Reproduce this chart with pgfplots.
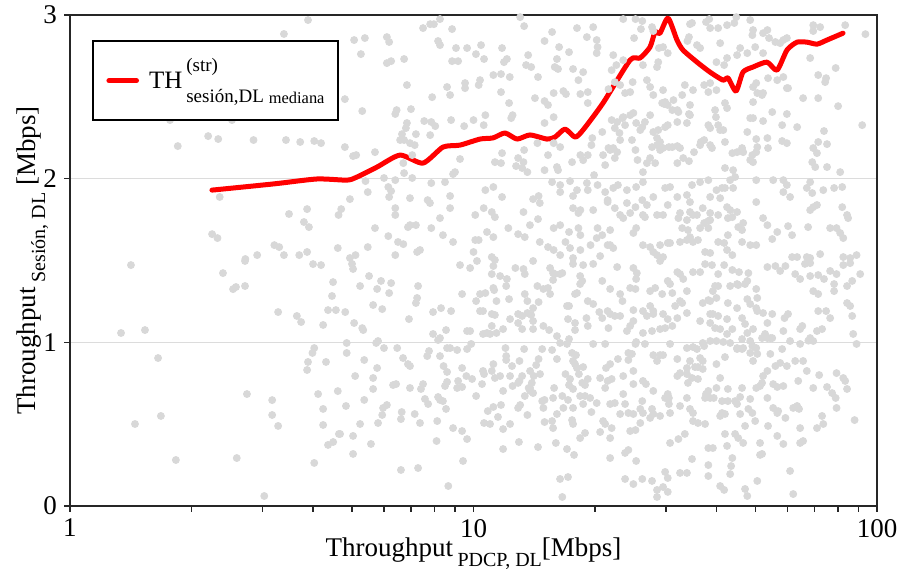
\documentclass[border=0pt]{standalone}
\usepackage{pgfplots}
\pgfplotsset{compat=1.18}
\usepackage{fontspec}
\setmainfont{Liberation Serif}
\definecolor{scat}{RGB}{216,216,216}
\definecolor{gridc}{RGB}{220,220,220}
\begin{document}
\begin{tikzpicture}
\useasboundingbox (-35pt,-33pt) rectangle (415.5pt,253pt);
\begin{axis}[
  at={(0pt,0pt)}, anchor=south west,
  scale only axis, width=403.5pt, height=245.5pt,
  xmode=log, xmin=1, xmax=100, ymin=0, ymax=3,
  xtick={1,10,100}, xticklabels={1,10,100},
  ytick={0,1,2,3},
  minor xtick={},
  xtick pos=bottom, ytick pos=left,
  tick align=outside, major tick length=3pt,
  ymajorgrids, major grid style={gridc, line width=0.5pt},
  axis line style={line width=0.8pt, black!85},
  tick style={line width=0.8pt, black!85},
  /pgf/number format/assume math mode=true,
  tick label style={font=\fontsize{13.5}{16}\selectfont},
  label style={font=\fontsize{13.5}{16}\selectfont},
  xlabel={Throughput\,\raisebox{-5pt}{\fontsize{10}{12}\selectfont PDCP, DL}[Mbps]},
  xlabel style={at={(axis description cs:0.5,0)}, anchor=base, yshift=-25.5pt},
  ylabel={Throughput\,\raisebox{-5pt}{\fontsize{10}{12}\selectfont Sesión, DL} [Mbps]},
  ylabel style={at={(axis description cs:-0.04337,0.5)}, anchor=base},
  legend style={at={(0.0273,0.949)}, anchor=north west, draw=black, line width=1pt, fill=white,
    inner xsep=6.7pt, inner ysep=0pt, nodes={inner sep=0pt, text depth={}}, font=\fontsize{12.5}{13}\selectfont},
  legend cell align=left,
  legend image code/.code={\draw[#1] (1.2pt,0pt) -- (15pt,0pt);},
]
\addplot[scat, only marks, mark=*, mark size=1.75pt, mark options={solid, fill=scat, draw=none}, forget plot] table[row sep=\\] {
x y\\
1.416 1.472\\ 2.394 1.423\\ 2.715 1.497\\ 2.536 1.325\\ 2.578 1.338\\ 2.715 1.344\\ 4.003 1.478\\ 4.19 1.472\\ 4.487 1.368\\ 4.46 1.283\\
4.36 1.197\\ 4.56 1.197\\ 3.28 1.185\\ 3.65 1.161\\ 3.74 1.124\\ 4.24 1.106\\ 1.338 1.057\\ 1.534 1.075\\ 1.653 0.904\\ 4.03 0.965\\
3.99 0.935\\ 3.89 0.880\\ 3.87 0.831\\ 4.31 0.880\\ 2.745 0.684\\ 3.17 0.647\\ 3.17 0.556\\ 3.28 0.489\\ 4.12 0.684\\ 4.61 0.702\\
4.24 0.593\\ 4.24 0.495\\ 4.64 0.440\\ 4.36 0.373\\ 4.49 0.391\\ 1.449 0.501\\ 1.68 0.550\\ 1.83 0.281\\ 2.59 0.293\\ 4.03 0.263\\ 3.03 0.061\\
3.89 2.969\\ 3.39 2.884\\ 1.77 2.358\\ 2.52 2.358\\ 2.20 2.260\\ 2.33 2.242\\ 1.85 2.199\\ 2.85 2.236\\ 3.43 2.236\\ 3.72 2.224\\
4.03 2.230\\ 4.19 2.217\\ 2.35 1.888\\ 3.49 1.784\\ 3.87 1.814\\ 3.80 1.735\\ 3.91 1.704\\ 2.25 1.661\\ 2.32 1.637\\ 3.21 1.594\\
3.30 1.582\\ 2.91 1.533\\ 2.72 1.509\\ 3.39 1.533\\ 3.70 1.533\\ 3.87 1.552\\ 4.61 1.576\\
8.26 2.975\\ 7.81 2.944\\ 7.50 2.920\\ 7.98 2.944\\ 8.85 2.914\\ 13.05 2.987\\ 13.35 2.932\\ 15.66 2.896\\ 18.05 2.920\\ 19.80 2.926\\
5.06 2.847\\ 5.38 2.859\\ 6.10 2.865\\ 6.18 2.835\\ 5.26 2.761\\ 8.17 2.841\\ 8.26 2.816\\ 9.05 2.798\\ 9.64 2.798\\ 10.44 2.816\\
10.14 2.761\\ 10.62 2.731\\ 11.77 2.798\\ 12.1 2.731\\ 11.9 2.712\\ 13.66 2.755\\ 13.5 2.694\\ 13.9 2.682\\ 15.0 2.841\\ 16.3 2.804\\
17.25 2.773\\ 16.1 2.731\\ 15.9 2.682\\ 17.65 2.670\\ 18.7 2.651\\ 19.1 2.865\\ 20.2 2.847\\ 20.3 2.804\\ 20.2 2.767\\ 6.73 2.731\\
6.25 2.718\\ 6.10 2.706\\ 8.85 2.718\\ 9.16 2.718\\ 11.2 2.633\\ 11.7 2.639\\ 12.3 2.621\\ 14.45 2.621\\ 16.2 2.670\\ 18.2 2.602\\
6.84 2.572\\ 8.6 2.560\\ 9.53 2.584\\ 9.53 2.553\\ 10.38 2.602\\ 10.3 2.572\\ 11.7 2.529\\ 12.25 2.462\\ 14.2 2.492\\ 15.0 2.474\\
15.3 2.450\\ 15.8 2.523\\ 16.7 2.535\\ 16.95 2.517\\ 19.2 2.529\\ 18.4 2.517\\ 19.2 2.462\\ 21.6 2.547\\ 7.9 2.498\\ 8.75 2.511\\
6.45 2.419\\ 6.4 2.395\\ 7.0 2.425\\ 5.3 2.413\\ 4.8 2.486\\ 15.8 2.376\\ 15.0 2.340\\ 12.5 2.388\\ 12.4 2.370\\ 10.7 2.388\\
10.6 2.327\\ 10.0 2.358\\ 9.48 2.321\\ 8.8 2.358\\ 7.55 2.352\\ 7.86 2.346\\ 8.04 2.321\\ 6.84 2.340\\ 6.8 2.309\\ 6.65 2.272\\
6.73 2.236\\ 6.58 2.236\\ 7.2 2.272\\ 7.81 2.266\\ 6.96 2.217\\ 7.15 2.205\\ 5.7 2.162\\ 5.03 2.138\\ 5.12 2.144\\ 4.8 2.193\\
11.77 2.156\\ 11.3 2.101\\ 11.7 2.095\\ 12.9 2.126\\ 13.3 2.101\\ 13.35 2.175\\ 14.4 2.217\\ 15.8 2.217\\ 16.4 2.193\\ 15.3 2.144\\
16.1 2.071\\ 16.2 2.052\\ 13.6 2.040\\ 12.75 2.077\\ 13.2 2.065\\ 15.0 2.052\\ 17.55 2.101\\ 18.4 2.144\\ 18.7 2.113\\ 19.7 2.248\\
19.6 2.205\\ 19.2 2.144\\ 20.95 2.144\\ 21.2 2.083\\ 21.6 2.187\\ 20.85 2.285\\ 9.26 2.120\\ 7.05 2.144\\ 6.7 2.095\\ 6.0 2.004\\
6.4 1.991\\ 7.05 2.004\\ 6.73 2.034\\ 5.4 1.985\\ 5.47 1.918\\ 6.15 1.949\\ 6.25 1.924\\ 6.18 1.888\\ 7.86 1.973\\ 8.5 1.979\\
8.9 2.028\\ 9.0 2.040\\ 8.75 1.894\\ 10.7 1.930\\ 11.2 1.949\\ 11.77 1.888\\ 14.05 1.875\\ 14.5 1.894\\ 14.6 1.851\\ 15.66 1.979\\
16.4 1.961\\ 16.4 1.918\\ 17.35 1.985\\ 17.65 1.894\\ 18.05 1.930\\ 19.1 1.973\\ 19.2 1.930\\ 19.9 2.022\\ 20.3 1.961\\ 21.2 1.918\\
21.5 1.869\\ 6.96 1.881\\ 7.7 1.869\\ 7.8 1.851\\ 4.94 1.875\\ 4.63 1.778\\ 4.7 1.814\\ 6.4 1.820\\ 6.4 1.778\\ 8.75 1.820\\
10.1 1.778\\ 10.6 1.820\\ 11.1 1.796\\ 11.3 1.765\\ 13.3 1.796\\ 14.45 1.753\\ 15.8 1.698\\ 16.4 1.716\\ 17.65 1.820\\ 18.2 1.790\\
18.4 1.808\\ 19.8 1.808\\ 21.5 1.857\\ 5.7 1.698\\ 6.15 1.649\\ 6.5 1.613\\ 6.7 1.600\\ 6.88 1.704\\ 6.96 1.716\\ 7.2 1.716\\
7.86 1.698\\ 8.26 1.759\\ 8.4 1.655\\ 8.9 1.613\\ 10.1 1.625\\ 10.3 1.625\\ 10.8 1.674\\ 11.2 1.643\\ 12.2 1.698\\ 12.9 1.661\\
13.8 1.716\\ 13.4 1.643\\ 14.6 1.613\\ 15.3 1.582\\ 15.8 1.564\\ 16.9 1.613\\ 17.25 1.674\\ 17.35 1.576\\ 18.4 1.655\\ 18.2 1.698\\
19.5 1.594\\ 20.2 1.637\\ 20.85 1.655\\ 20.3 1.698\\ 21.5 1.594\\ 5.1 1.533\\ 4.94 1.515\\ 5.47 1.582\\ 6.4 1.533\\ 7.25 1.552\\
7.37 1.564\\ 10.0 1.552\\ 11.1 1.521\\ 11.3 1.503\\ 16.4 1.533\\ 17.65 1.515\\ 18.4 1.564\\ 20.6 1.527\\
5.00 1.479\\ 5.03 1.448\\ 5.51 1.405\\ 5.90 1.375\\ 6.25 1.362\\ 5.77 1.326\\ 6.18 1.301\\ 5.235 1.344\\ 7.29 1.344\\ 7.25 1.271\\
7.20 1.240\\ 4.81 1.185\\ 5.64 1.228\\ 5.94 1.203\\ 5.06 1.118\\ 5.30 1.087\\ 5.33 1.075\\ 6.92 1.142\\ 7.94 1.185\\ 8.31 1.209\\
8.80 1.191\\ 9.37 1.295\\ 9.26 1.472\\ 9.81 1.454\\ 10.2 1.497\\ 11.2 1.466\\ 11.1 1.417\\ 11.64 1.405\\ 12.1 1.387\\ 12.05 1.344\\
10.38 1.295\\ 10.7 1.301\\ 10.15 1.252\\ 11.2 1.332\\ 11.25 1.319\\ 11.4 1.252\\ 12.25 1.264\\ 12.7 1.454\\ 13.3 1.448\\ 13.4 1.417\\
14.05 1.497\\ 15.48 1.454\\ 15.9 1.417\\ 16.6 1.423\\ 15.75 1.381\\ 14.4 1.344\\ 14.9 1.326\\ 15.3 1.332\\ 15.48 1.295\\ 13.4 1.295\\
13.6 1.252\\ 14.5 1.246\\ 14.05 1.209\\ 12.32 1.142\\ 12.9 1.173\\ 13.2 1.161\\ 13.6 1.179\\ 13.9 1.167\\ 14.05 1.130\\ 14.9 1.100\\
15.4 1.075\\ 14.05 1.081\\ 13.2 1.081\\ 12.9 1.118\\ 11.84 1.081\\ 11.4 1.057\\ 11.1 1.173\\ 11.3 1.167\\ 11.1 1.100\\ 10.99 1.051\\
10.38 1.191\\ 10.56 1.191\\ 10.8 1.057\\ 10.56 1.051\\ 9.64 1.069\\ 9.81 1.069\\ 8.55 1.075\\ 8.26 1.026\\ 8.17 1.014\\ 7.94 1.051\\
8.75 0.965\\ 9.11 0.953\\ 9.64 0.959\\ 9.87 0.990\\ 7.76 0.947\\ 7.68 0.916\\ 8.26 0.916\\ 8.6 0.965\\ 8.43 0.855\\ 8.6 0.819\\
9.37 0.843\\ 9.6 0.794\\ 9.92 0.776\\ 9.16 0.764\\ 9.11 0.721\\ 8.6 0.758\\ 8.5 0.733\\ 9.37 0.727\\ 10.15 0.672\\ 10.5 0.745\\
10.56 0.825\\ 10.62 0.806\\ 11.1 0.825\\ 11.2 0.867\\ 11.3 0.782\\ 11.64 0.794\\ 12.05 0.916\\ 12.05 0.892\\ 12.0 0.965\\ 12.46 0.855\\
13.0 0.886\\ 12.5 0.733\\ 12.9 0.752\\ 13.2 0.794\\ 13.0 0.764\\ 13.35 0.959\\ 12.32 0.794\\ 13.81 0.825\\ 13.95 0.752\\ 13.81 0.721\\
14.1 0.794\\ 14.62 0.806\\ 14.3 0.861\\ 14.5 0.898\\ 14.8 0.959\\ 15.66 0.953\\ 16.1 0.898\\ 16.9 0.806\\ 17.35 0.776\\ 17.55 0.935\\
17.65 0.886\\ 17.85 0.867\\ 18.05 0.843\\ 17.05 0.990\\ 17.25 1.020\\ 17.95 0.922\\ 18.25 0.806\\ 18.6 0.752\\ 19.2 0.776\\ 18.7 0.849\\
19.8 0.990\\ 21.2 0.990\\ 21.3 0.843\\ 20.6 0.782\\ 21.2 0.721\\ 21.5 0.764\\ 18.9 0.739\\ 17.65 0.715\\ 17.25 0.739\\ 19.05 1.148\\
19.2 1.100\\ 17.85 1.118\\ 17.85 1.075\\ 17.15 1.142\\ 16.1 1.038\\ 16.39 0.996\\ 17.05 1.222\\ 17.25 1.222\\ 18.05 1.301\\ 17.85 1.295\\
18.38 1.356\\ 18.6 1.375\\ 18.38 1.405\\ 19.8 1.479\\ 18.7 1.472\\ 20.85 1.375\\ 19.2 1.252\\ 19.8 1.234\\ 20.5 1.185\\ 20.85 1.148\\
21.5 1.191\\ 21.6 1.087\\ 16.39 1.417\\ 15.75 1.423\\ 17.65 1.479\\
4.83 0.611\\ 5.36 0.648\\ 5.64 0.715\\ 5.64 0.782\\ 5.77 0.843\\ 5.09 0.794\\ 4.85 0.935\\ 4.85 0.996\\ 5.74 0.996\\ 5.80 1.008\\
6.00 0.965\\ 6.47 0.965\\ 5.36 0.892\\ 6.69 0.904\\ 6.88 0.867\\ 6.96 0.855\\ 6.32 0.739\\ 6.43 0.745\\ 6.96 0.721\\ 7.41 0.715\\
7.50 0.745\\ 7.58 0.654\\ 7.72 0.623\\ 8.17 0.666\\ 8.26 0.648\\ 8.40 0.641\\ 8.55 0.593\\ 5.97 0.599\\ 6.10 0.617\\ 5.94 0.556\\
6.64 0.574\\ 6.61 0.531\\ 7.15 0.562\\ 7.37 0.507\\ 5.80 0.507\\ 5.235 0.501\\ 4.67 0.440\\ 5.03 0.428\\ 5.57 0.379\\ 5.03 0.318\\
6.61 0.220\\ 7.29 0.232\\ 8.1 0.397\\ 8.13 0.519\\ 8.9 0.476\\ 9.37 0.458\\ 9.64 0.409\\ 9.42 0.275\\ 8.66 0.122\\ 10.85 0.580\\
11.2 0.605\\ 11.7 0.617\\ 11.5 0.544\\ 10.62 0.507\\ 10.99 0.501\\ 11.84 0.470\\ 12.32 0.501\\ 11.84 0.703\\ 11.84 0.348\\ 12.9 0.599\\
13.05 0.617\\ 13.6 0.556\\ 13.4 0.672\\ 12.96 0.391\\ 14.45 0.360\\ 14.9 0.599\\ 15.0 0.648\\ 14.8 0.641\\ 15.0 0.513\\ 15.66 0.519\\
15.75 0.476\\ 15.84 0.721\\ 15.75 0.660\\ 16.1 0.562\\ 16.6 0.672\\ 16.7 0.599\\ 17.55 0.525\\ 17.65 0.501\\ 17.15 0.648\\ 17.65 0.599\\
18.38 0.672\\ 18.7 0.623\\ 18.9 0.672\\ 19.46 0.660\\ 19.6 0.574\\ 20.2 0.629\\ 20.95 0.519\\ 21.2 0.501\\ 18.9 0.446\\ 18.38 0.415\\
20.6 0.452\\ 16.0 0.385\\ 17.05 0.348\\ 17.75 0.312\\ 16.39 0.165\\ 17.15 0.177\\ 13.7 0.721\\ 14.05 0.690\\ 13.81 0.703\\ 16.6 0.055\\
23.5 2.975\\ 25.2 2.975\\ 26.2 2.963\\ 27.7 2.926\\ 27.9 2.902\\ 25.0 2.859\\ 26.0 2.914\\ 22.2 2.755\\ 22.6 2.694\\ 22.0 2.663\\
23.5 2.724\\ 26.3 2.694\\ 28.8 2.798\\ 29.5 2.804\\ 28.7 2.712\\ 28.5 2.682\\ 30.3 2.767\\ 34.2 2.865\\ 33.9 2.841\\ 35.8 2.816\\
36.45 2.798\\ 34.8 2.951\\ 34.4 2.944\\ 37.7 2.957\\ 38.4 2.975\\ 38.6 2.920\\ 40.4 2.920\\ 40.86 2.828\\ 42.5 2.938\\ 44.3 2.951\\
44.8 2.987\\ 48.5 2.969\\ 49.3 2.908\\ 49.1 2.877\\ 52.2 2.889\\ 53.5 2.908\\ 54.0 2.859\\ 45.8 2.798\\ 45.0 2.755\\ 42.5 2.737\\
40.0 2.712\\ 41.8 2.694\\ 49.9 2.804\\ 47.7 2.767\\ 52.2 2.767\\ 56.0 2.835\\ 57.55 2.828\\ 58.6 2.847\\ 59.8 2.859\\ 69.5 2.938\\
69.5 2.902\\ 72.3 2.926\\ 83.4 2.938\\ 93.6 2.883\\ 68.3 2.737\\ 71.5 2.633\\ 74.8 2.614\\ 74.4 2.590\\ 79.0 2.676\\ 80.1 2.443\\
91.9 2.327\\ 71.5 2.492\\ 65.6 2.492\\ 58.6 2.621\\ 56.6 2.602\\ 59.8 2.553\\ 60.2 2.553\\ 53.7 2.614\\ 50.2 2.584\\ 49.3 2.560\\
50.5 2.523\\ 52.2 2.523\\ 51.9 2.511\\ 49.3 2.468\\ 55.0 2.407\\ 59.8 2.395\\ 58.2 2.327\\ 63.4 2.315\\ 52.2 2.352\\ 48.5 2.370\\
49.3 2.370\\ 47.7 2.285\\ 50.2 2.242\\ 50.5 2.193\\ 53.5 2.248\\ 58.2 2.230\\ 59.8 2.217\\ 73.9 2.291\\ 71.5 2.224\\ 75.2 2.211\\
69.5 2.187\\ 71.0 2.156\\ 69.1 2.101\\ 70.3 2.071\\ 75.2 2.071\\ 81.05 2.040\\ 53.7 2.187\\ 50.2 2.162\\ 49.1 2.144\\ 48.5 2.114\\
49.3 2.101\\ 45.0 2.162\\ 43.8 2.156\\ 44.0 2.052\\ 44.5 2.010\\ 42.0 2.065\\ 46.3 2.187\\ 46.6 2.162\\ 22.4 2.590\\ 23.09 2.572\\
24.8 2.590\\ 24.45 2.529\\ 23.75 2.523\\ 26.9 2.602\\ 27.4 2.560\\ 27.9 2.511\\ 29.5 2.541\\ 29.85 2.468\\ 29.7 2.456\\ 31.3 2.480\\
32.0 2.419\\ 32.2 2.407\\ 31.1 2.419\\ 32.9 2.511\\ 34.4 2.450\\ 34.2 2.395\\ 35.0 2.541\\ 33.4 2.572\\ 37.3 2.572\\ 38.2 2.529\\
38.6 2.584\\ 40.0 2.541\\ 42.0 2.462\\ 42.5 2.431\\ 39.7 2.419\\ 39.9 2.376\\ 38.2 2.327\\ 38.6 2.309\\ 40.4 2.327\\ 40.86 2.297\\
42.0 2.224\\ 41.6 2.297\\ 38.6 2.205\\ 37.3 2.236\\ 36.6 2.224\\ 36.45 2.205\\ 39.0 2.187\\ 35.2 2.162\\ 34.2 2.107\\ 33.1 2.126\\
32.5 2.187\\ 32.0 2.199\\ 31.1 2.193\\ 32.0 2.095\\ 29.5 2.187\\ 29.0 2.175\\ 28.5 2.248\\ 27.9 2.285\\ 28.7 2.297\\ 30.3 2.327\\
29.85 2.315\\ 32.0 2.346\\ 33.8 2.340\\ 34.4 2.388\\ 27.4 2.388\\ 26.6 2.346\\ 26.2 2.315\\ 25.9 2.297\\ 25.3 2.340\\ 24.45 2.388\\
24.9 2.401\\ 23.5 2.376\\ 23.4 2.370\\ 22.7 2.346\\ 22.0 2.358\\ 22.4 2.309\\ 23.0 2.279\\ 23.75 2.327\\ 24.7 2.236\\ 25.2 2.175\\
22.2 2.187\\ 22.7 2.162\\ 22.4 2.126\\ 25.5 2.114\\ 26.3 2.040\\ 27.4 2.126\\ 26.9 2.095\\ 28.2 2.095\\ 28.5 2.205\\ 29.0 2.224\\
30.5 2.193\\ 27.7 2.193\\ 23.09 2.236\\ 21.81 2.175\\ 29.35 2.462\\ 30.3 2.450\\
22.2 1.943\\ 22.8 1.961\\ 24.0 1.930\\ 25.3 1.949\\ 26.3 1.979\\ 26.2 1.869\\ 27.9 1.888\\ 29.85 1.943\\ 30.7 1.949\\ 32.0 1.888\\
33.8 1.900\\ 34.4 1.857\\ 34.8 1.961\\ 36.45 1.979\\ 38.2 1.991\\ 40.0 1.930\\ 41.3 1.943\\ 42.0 1.943\\ 38.6 1.888\\ 40.86 1.881\\
44.0 1.943\\ 43.26 1.991\\ 50.2 1.991\\ 55.3 1.991\\ 58.6 1.991\\ 59.8 1.961\\ 58.6 1.918\\ 60.9 1.888\\ 67.0 1.943\\ 69.1 1.912\\
73.6 1.930\\ 78.3 1.943\\ 82.0 1.949\\ 68.3 1.979\\ 22.4 1.820\\ 23.09 1.778\\ 23.5 1.759\\ 24.0 1.851\\ 25.2 1.826\\ 24.45 1.790\\
26.3 1.778\\ 26.6 1.765\\ 26.9 1.839\\ 28.5 1.778\\ 29.5 1.778\\ 30.3 1.839\\ 32.2 1.759\\ 32.5 1.790\\ 33.8 1.747\\ 34.4 1.796\\
35.0 1.778\\ 35.8 1.778\\ 37.0 1.820\\ 37.3 1.729\\ 38.2 1.741\\ 38.6 1.790\\ 40.4 1.778\\ 42.5 1.826\\ 43.26 1.808\\ 42.7 1.759\\
43.8 1.765\\ 45.0 1.796\\ 45.3 1.704\\ 46.6 1.729\\ 46.3 1.686\\ 50.2 1.857\\ 52.2 1.759\\ 53.5 1.716\\ 56.6 1.674\\ 60.2 1.710\\
61.6 1.655\\ 67.5 1.704\\ 68.3 1.808\\ 69.5 1.826\\ 71.0 1.839\\ 76.55 1.698\\ 79.4 1.698\\ 81.05 1.668\\ 82.5 1.637\\ 82.0 1.826\\
84.3 1.778\\ 84.8 1.759\\ 24.9 1.668\\ 25.3 1.698\\ 26.3 1.594\\ 27.4 1.582\\ 29.0 1.594\\ 30.3 1.607\\ 30.7 1.607\\ 32.5 1.613\\
33.8 1.625\\ 34.4 1.643\\ 35.0 1.613\\ 36.0 1.625\\ 32.9 1.698\\ 34.0 1.686\\ 36.45 1.698\\ 38.2 1.698\\ 38.6 1.747\\ 37.5 1.552\\
38.6 1.546\\ 40.4 1.613\\ 41.8 1.607\\ 42.7 1.655\\ 42.5 1.564\\ 43.8 1.533\\ 46.3 1.613\\ 48.5 1.594\\ 50.2 1.594\\ 55.0 1.631\\
61.6 1.521\\ 63.4 1.521\\ 67.0 1.521\\ 68.3 1.515\\ 72.3 1.539\\ 82.5 1.521\\ 85.8 1.515\\ 89.0 1.533\\ 27.9 1.552\\ 28.5 1.533\\
29.5 1.521\\ 21.81 1.686\\ 21.81 1.594\\ 22.2 1.576\\
22.7 1.460\\ 24.9 1.454\\ 25.4 1.423\\ 29.0 1.497\\ 32.0 1.429\\ 32.5 1.417\\ 33.1 1.387\\ 35.0 1.429\\ 36.45 1.429\\ 37.5 1.478\\
39.0 1.472\\ 40.4 1.417\\ 41.8 1.472\\ 43.8 1.442\\ 45.5 1.429\\ 48.0 1.423\\ 47.7 1.375\\ 45.0 1.356\\ 45.3 1.350\\ 47.1 1.356\\
43.26 1.344\\ 50.2 1.326\\ 50.5 1.271\\ 53.5 1.460\\ 56.0 1.466\\ 57.55 1.436\\ 59.3 1.466\\ 62.7 1.417\\ 64.5 1.387\\ 66.3 1.479\\
68.3 1.484\\ 68.3 1.405\\ 71.5 1.411\\ 73.9 1.387\\ 76.55 1.436\\ 79.4 1.417\\ 82.5 1.472\\ 85.8 1.484\\ 90.85 1.417\\ 86.8 1.375\\
84.3 1.344\\ 78.3 1.356\\ 78.3 1.313\\ 69.5 1.313\\ 71.5 1.295\\ 21.81 1.326\\ 23.09 1.295\\ 23.4 1.252\\ 24.45 1.332\\ 25.3 1.387\\
25.2 1.326\\ 27.4 1.313\\ 28.2 1.332\\ 29.35 1.295\\ 30.3 1.375\\ 30.7 1.356\\ 31.1 1.301\\ 33.8 1.313\\ 32.5 1.252\\ 32.9 1.240\\
31.6 1.222\\ 37.0 1.240\\ 38.2 1.258\\ 38.6 1.252\\ 40.0 1.271\\ 39.2 1.313\\ 40.4 1.344\\ 39.7 1.344\\ 42.7 1.240\\ 45.0 1.209\\
47.7 1.264\\ 48.5 1.234\\ 50.2 1.209\\ 50.5 1.191\\ 52.2 1.179\\ 55.0 1.173\\ 53.5 1.118\\ 59.0 1.148\\ 60.2 1.173\\ 64.5 1.081\\
65.3 1.100\\ 71.5 1.191\\ 74.8 1.191\\ 76.55 1.148\\ 84.3 1.240\\ 85.8 1.222\\ 86.8 1.161\\ 87.3 1.051\\ 89.0 0.990\\ 71.0 1.069\\
73.1 1.081\\ 68.3 1.026\\ 69.5 1.008\\ 27.4 1.222\\ 27.9 1.191\\ 26.3 1.191\\ 24.9 1.197\\ 22.4 1.161\\ 21.81 1.173\\ 23.09 1.161\\
24.9 1.130\\ 24.45 1.100\\ 24.0 1.069\\ 26.9 1.161\\ 27.9 1.173\\ 29.5 1.173\\ 30.3 1.142\\ 29.0 1.081\\ 29.85 1.087\\ 31.1 1.100\\
32.0 1.148\\ 33.8 1.179\\ 36.45 1.130\\ 38.6 1.173\\ 39.2 1.173\\ 40.4 1.161\\ 38.6 1.118\\ 39.7 1.087\\ 40.86 1.081\\ 42.5 1.142\\
43.8 1.081\\ 42.5 1.051\\ 46.3 1.148\\ 47.1 1.112\\ 47.7 1.057\\ 49.3 1.081\\ 46.3 1.020\\ 48.5 1.008\\ 52.8 1.051\\ 54.4 1.026\\
58.6 1.069\\ 60.9 1.008\\ 64.5 0.990\\ 67.6 1.010\\ 26.3 1.057\\ 27.7 1.069\\ 25.2 0.990\\ 25.3 1.002\\ 26.6 0.990\\ 30.7 0.990\\
33.8 0.965\\ 35.0 0.971\\ 35.8 0.959\\ 37.0 0.996\\ 37.3 0.977\\ 38.6 1.008\\ 40.0 1.008\\ 41.6 1.002\\ 43.26 0.996\\ 45.0 0.965\\
46.6 0.965\\ 49.1 0.977\\ 50.2 0.965\\ 51.9 1.026\\ 53.5 1.026\\ 55.0 1.026\\ 58.2 0.959\\ 24.2 0.935\\ 21.81 0.867\\ 22.8 0.898\\
24.2 0.892\\ 24.7 0.929\\ 27.9 0.922\\ 29.0 0.922\\ 29.5 0.922\\ 28.5 0.886\\ 32.0 0.898\\ 34.4 0.886\\ 36.45 0.904\\ 37.0 0.886\\
33.8 0.843\\ 35.4 0.849\\ 36.0 0.849\\ 37.0 0.837\\ 40.0 0.867\\ 42.0 0.910\\ 45.0 0.959\\ 46.3 0.959\\ 48.5 0.935\\ 49.3 0.886\\
50.5 0.929\\ 54.4 0.929\\ 56.0 0.855\\ 57.55 0.874\\ 59.8 0.855\\ 65.6 0.886\\ 62.7 0.886\\ 67.0 0.825\\ 71.9 0.800\\ 79.4 0.812\\
82.5 0.782\\ 83.4 0.764\\ 24.9 0.825\\ 23.5 0.794\\ 22.0 0.776\\ 26.3 0.764\\ 26.75 0.745\\ 24.9 0.745\\ 27.9 0.703\\ 30.3 0.684\\
30.5 0.660\\ 32.0 0.794\\ 32.5 0.812\\ 33.8 0.806\\ 34.8 0.782\\ 34.0 0.752\\ 36.0 0.776\\ 38.2 0.703\\ 37.7 0.684\\ 39.4 0.660\\
38.6 0.660\\ 40.0 0.721\\ 40.86 0.782\\ 42.7 0.715\\ 41.3 0.641\\ 42.7 0.641\\ 44.5 0.641\\ 45.0 0.623\\ 46.3 0.721\\ 45.8 0.666\\
48.5 0.654\\ 50.2 0.721\\ 51.3 0.733\\ 51.9 0.752\\ 52.2 0.794\\ 53.5 0.825\\ 55.3 0.745\\ 56.6 0.727\\ 53.5 0.660\\ 55.3 0.599\\
56.9 0.580\\ 59.3 0.538\\ 58.6 0.733\\ 62.0 0.599\\ 63.4 0.611\\ 64.1 0.593\\ 63.8 0.764\\ 69.5 0.721\\ 75.2 0.727\\ 77.4 0.690\\
79.0 0.660\\ 79.4 0.599\\ 84.3 0.715\\ 88.0 0.525\\ 73.1 0.550\\ 73.6 0.501\\ 71.0 0.476\\ 64.5 0.476\\ 21.81 0.623\\ 22.4 0.629\\
23.5 0.684\\ 23.75 0.623\\ 23.09 0.562\\ 24.2 0.568\\ 24.9 0.562\\ 25.9 0.593\\ 26.2 0.641\\ 26.3 0.568\\ 25.9 0.507\\ 27.7 0.593\\
27.4 0.538\\ 27.9 0.562\\ 29.0 0.550\\ 29.85 0.660\\ 30.5 0.623\\ 30.7 0.568\\ 32.5 0.611\\ 33.8 0.660\\ 34.4 0.593\\ 35.0 0.568\\
35.0 0.519\\ 36.0 0.507\\ 37.5 0.501\\ 37.5 0.660\\ 40.86 0.550\\ 41.3 0.568\\ 42.0 0.562\\ 45.8 0.562\\ 48.0 0.593\\ 49.1 0.568\\
49.9 0.519\\ 47.1 0.489\\ 53.7 0.489\\ 56.6 0.568\\ 22.0 0.476\\ 21.81 0.415\\ 24.45 0.458\\ 25.2 0.464\\ 42.0 0.440\\ 44.5 0.440\\
45.3 0.415\\ 46.6 0.385\\ 38.2 0.354\\ 39.2 0.354\\ 42.5 0.367\\ 51.3 0.385\\ 51.9 0.318\\ 56.6 0.428\\ 58.6 0.379\\ 64.5 0.385\\
65.6 0.397\\ 30.7 0.385\\ 32.2 0.409\\ 33.4 0.440\\ 23.75 0.324\\ 24.2 0.342\\ 25.3 0.275\\ 21.81 0.293\\ 34.8 0.287\\ 43.8 0.293\\
43.5 0.244\\ 43.26 0.195\\ 38.2 0.250\\ 38.2 0.183\\ 29.85 0.208\\ 30.3 0.171\\ 32.5 0.202\\ 33.8 0.202\\ 51.3 0.312\\ 60.9 0.214\\
23.75 0.165\\ 24.9 0.134\\ 26.2 0.165\\ 27.7 0.153\\ 28.5 0.098\\ 29.5 0.116\\ 40.86 0.122\\ 47.1 0.104\\ 50.5 0.153\\ 62.0 0.073\\
28.5 0.055\\ 30.3 0.086\\ 41.8 0.098\\ 47.7 0.061\\
};
\addplot[red, line width=2.5pt, smooth, tension=0.4, line join=round, line cap=round] table[row sep=\\] {
x y\\
2.248 1.930\\ 3.20 1.968\\ 4.094 1.998\\ 4.859 1.991\\ 5.144 2.010\\ 5.768 2.071\\ 6.575 2.144\\ 7.496 2.095\\ 8.403 2.193\\ 9.259 2.205\\
10.38 2.242\\ 11.18 2.249\\ 11.97 2.279\\ 12.82 2.242\\ 13.80 2.267\\ 15.21 2.242\\ 15.92 2.254\\ 16.86 2.303\\ 17.85 2.254\\ 18.68 2.297\\
20.94 2.462\\ 24.43 2.724\\ 25.86 2.737\\ 27.38 2.804\\ 28.18 2.896\\ 28.99 2.889\\ 30.35 2.981\\ 31.94 2.847\\ 33.05 2.786\\ 35.81 2.712\\
38.56 2.651\\ 41.53 2.602\\ 42.73 2.615\\ 44.73 2.535\\ 46.55 2.651\\ 49.28 2.682\\ 53.39 2.712\\ 56.53 2.663\\ 59.84 2.786\\ 63.35 2.834\\
67.07 2.834\\ 71.02 2.822\\ 75.18 2.847\\ 82.39 2.889\\
};
\addlegendentry{\raisebox{0pt}[23.7pt][16pt]{\hspace{5pt}TH\hspace{2pt}\rlap{\raisebox{8.5pt}{\fontsize{9.5}{10}\selectfont(str)}}\raisebox{-7.2pt}{\fontsize{9.5}{10}\selectfont sesión,DL}\hspace{2.5pt}\raisebox{-7.5pt}{\fontsize{8.2}{9}\selectfont mediana}}}
\end{axis}
\end{tikzpicture}
\end{document}
